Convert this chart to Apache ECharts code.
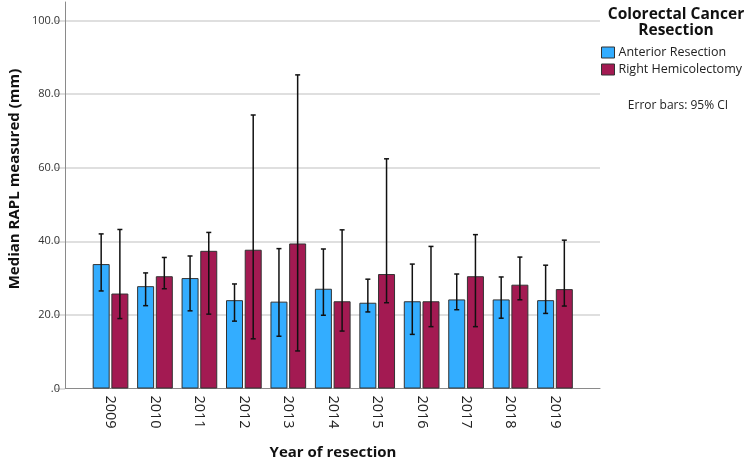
<!DOCTYPE html>
<html>
<head>
<meta charset="utf-8">
<script src="https://cdn.jsdelivr.net/npm/echarts@6/dist/echarts.min.js"></script>
<style>html,body{margin:0;padding:0;background:#fff}#c{width:749px;height:462px}</style>
</head>
<body>
<div id="c"></div>
<script>
var years = ['2009','2010','2011','2012','2013','2014','2015','2016','2017','2018','2019'];
var anteriorMedian = [33.8, 27.8, 30.0, 24.0, 23.6, 27.1, 23.3, 23.7, 24.2, 24.2, 24.0];
var anteriorLow    = [26.5, 22.5, 21.1, 18.3, 14.2, 19.9, 20.8, 14.7, 21.4, 19.1, 20.4];
var anteriorHigh   = [42.0, 31.4, 36.0, 28.4, 38.0, 37.9, 29.7, 33.8, 31.1, 30.3, 33.5];
var rightMedian    = [25.8, 30.5, 37.4, 37.7, 39.4, 23.7, 31.1, 23.7, 30.5, 28.2, 27.0];
var rightLow       = [19.0, 27.1, 20.2, 13.5, 10.2, 15.6, 23.3, 16.8, 16.8, 24.1, 22.4];
var rightHigh      = [43.2, 35.6, 42.4, 74.3, 85.2, 43.1, 62.4, 38.6, 41.8, 35.7, 40.3];
var yTicks = [0, 20, 40, 60, 80, 100];

var FONT = '"Open Sans", "DejaVu Sans", sans-serif';
var BLUE = '#33adff', RED = '#a31a52';

function errData(low, high) {
  return low.map(function (l, i) { return [i, l, high[i]]; });
}
function errSeries(name, low, high, offset) {
  return {
    type: 'custom', name: name + ' CI', xAxisIndex: 1, yAxisIndex: 1, silent: true, z: 10,
    data: errData(low, high),
    renderItem: function (params, api) {
      var x = api.value(0);
      var lo = api.coord([x, api.value(1)]);
      var hi = api.coord([x, api.value(2)]);
      var cx = lo[0] + offset;
      var cap = 2.5;
      var st = { stroke: '#111', lineWidth: 1.5 };
      return { type: 'group', children: [
        { type: 'line', shape: { x1: cx, y1: hi[1], x2: cx, y2: lo[1] }, style: st },
        { type: 'line', shape: { x1: cx - cap, y1: hi[1], x2: cx + cap, y2: hi[1] }, style: st },
        { type: 'line', shape: { x1: cx - cap, y1: lo[1], x2: cx + cap, y2: lo[1] }, style: st }
      ]};
    }
  };
}

var chart = echarts.init(document.getElementById('c'), null, { renderer: 'canvas' });
chart.setOption({
  animation: false,
  backgroundColor: '#fff',
  textStyle: { fontFamily: FONT },
  grid: [
    { left: 65, top: 2, width: 535, bottom: 73.5 },
    { left: 88.3, top: 2, width: 488.9, bottom: 73.5 }
  ],
  xAxis: [
    { gridIndex: 0, type: 'value', min: 0, max: 1, axisLine: { show: true, onZero: false, lineStyle: { color: '#8a8a8a', width: 1 } },
      axisTick: { show: false }, axisLabel: { show: false }, splitLine: { show: false } },
    { gridIndex: 1, type: 'category', data: years, axisLine: { show: false }, axisTick: { show: false },
      axisLabel: { rotate: -90, margin: 7, fontSize: 14.5, color: '#222', fontFamily: FONT } }
  ],
  yAxis: [
    { gridIndex: 0, type: 'value', min: 0, max: 105, interval: 20,
      axisLine: { show: true, lineStyle: { color: '#8a8a8a', width: 1 } },
      axisTick: { show: true, length: 10, lineStyle: { color: '#d4d4d4', width: 1.5 } },
      axisLabel: { margin: 5, fontSize: 11, color: '#333', fontFamily: FONT, showMaxLabel: false,
        formatter: function (v) { if (yTicks.indexOf(v) < 0) return ''; return v === 0 ? '.0' : v.toFixed(1); } },
      splitLine: { show: true, showMinLine: false, showMaxLine: false, lineStyle: { color: '#d4d4d4', width: 1.5 } } },
    { gridIndex: 1, type: 'value', min: 0, max: 105, show: false, splitLine: { show: false } }
  ],
  legend: {
    orient: 'vertical', left: 601, top: 46, padding: 0, itemWidth: 13, itemHeight: 11, itemGap: 4,
    textStyle: { fontSize: 12.5, color: '#222', fontFamily: FONT, padding: [0, 0, 0, -1] },
    data: [
      { name: 'Anterior Resection', icon: 'rect', itemStyle: { borderColor: '#333', borderWidth: 1 } },
      { name: 'Right Hemicolectomy', icon: 'rect', itemStyle: { borderColor: '#333', borderWidth: 1 } }
    ]
  },
  graphic: [
    { type: 'text', x: 15, y: 179, rotation: Math.PI / 2,
      style: { text: 'Median RAPL measured (mm)', font: 'bold 15px ' + FONT, fill: '#111', textAlign: 'center', textVerticalAlign: 'middle' } },
    { type: 'text', x: 333, y: 453, style: { text: 'Year of resection', font: 'bold 15px ' + FONT, fill: '#111', textAlign: 'center', textVerticalAlign: 'middle' } },
    { type: 'text', x: 676, y: 15, style: { text: 'Colorectal Cancer', font: 'bold 15.5px ' + FONT, fill: '#111', textAlign: 'center', textVerticalAlign: 'middle' } },
    { type: 'text', x: 676, y: 31, style: { text: 'Resection', font: 'bold 15.5px ' + FONT, fill: '#111', textAlign: 'center', textVerticalAlign: 'middle' } },
    { type: 'text', x: 678, y: 106, style: { text: 'Error bars: 95% CI', font: '12px ' + FONT, fill: '#222', textAlign: 'center', textVerticalAlign: 'middle' } }
  ],
  series: [
    { type: 'bar', name: 'Anterior Resection', xAxisIndex: 1, yAxisIndex: 1, data: anteriorMedian,
      barWidth: 17, barGap: '10%', itemStyle: { color: BLUE, borderColor: '#333', borderWidth: 1 } },
    { type: 'bar', name: 'Right Hemicolectomy', xAxisIndex: 1, yAxisIndex: 1, data: rightMedian,
      barWidth: 17, barGap: '10%', itemStyle: { color: RED, borderColor: '#333', borderWidth: 1 } },
    errSeries('Anterior Resection', anteriorLow, anteriorHigh, -9.35),
    errSeries('Right Hemicolectomy', rightLow, rightHigh, 9.35)
  ]
});
</script>
</body>
</html>
